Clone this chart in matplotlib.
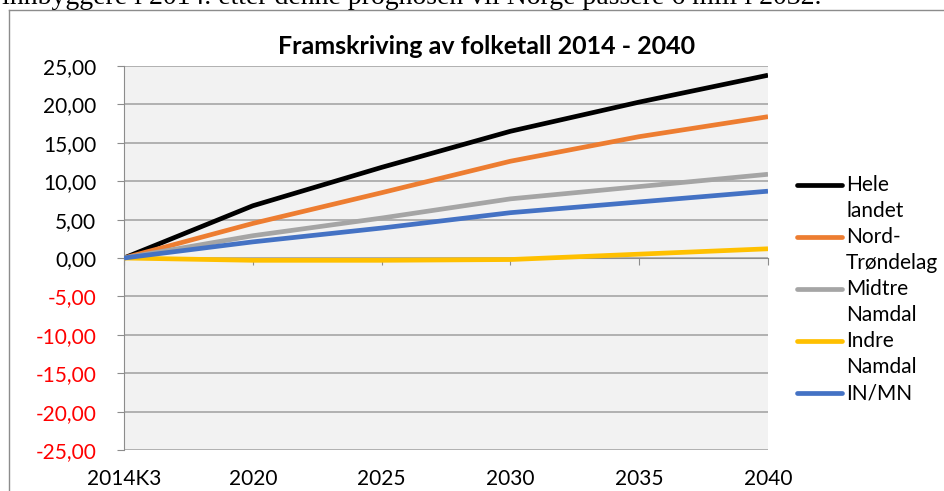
import matplotlib.pyplot as plt
from matplotlib.lines import Line2D

categories = ['2014K3', '2020', '2025', '2030', '2035', '2040']
hele_landet = [0.0, 6.8, 11.8, 16.5, 20.3, 23.8]
nord_trondelag = [0.0, 4.5, 8.5, 12.6, 15.8, 18.4]
midtre_namdal = [0.0, 2.9, 5.2, 7.7, 9.3, 10.9]
indre_namdal = [0.0, -0.3, -0.3, -0.2, 0.5, 1.2]
in_mn = [0.0, 2.1, 3.9, 5.9, 7.3, 8.7]

series = [
    ('Hele\nlandet', hele_landet, '#000000'),
    ('Nord-\nTrøndelag', nord_trondelag, '#ED7D31'),
    ('Midtre\nNamdal', midtre_namdal, '#A5A5A5'),
    ('Indre\nNamdal', indre_namdal, '#FFC000'),
    ('IN/MN', in_mn, '#4472C4'),
]
y_ticks = [-25, -20, -15, -10, -5, 0, 5, 10, 15, 20, 25]

title = 'Framskriving av folketall 2014 - 2040'
body_text = 'innbyggere i 2014. etter denne prognosen vil Norge passere 6 mill i 2032.'

W, H = 944, 491
fig = plt.figure(figsize=(W / 100, H / 100), dpi=100)
fig.patch.set_facecolor('white')

# cut-off body text line and chart frame
fig.text(2 / W, 1 - 3.5 / H, body_text, family='Liberation Serif', fontsize=20,
         va='baseline', ha='left', color='black')
fig.add_artist(Line2D([9 / W, 9 / W], [0, 1 - 10 / H], color='#8c8c8c', lw=1.0))
fig.add_artist(Line2D([9 / W, 1], [1 - 10 / H, 1 - 10 / H], color='#8c8c8c', lw=1.0))

left, right, top, bottom = 124, 768, 66, 450
ax = fig.add_axes([left / W, 1 - bottom / H, (right - left) / W, (bottom - top) / H])
ax.set_facecolor('#F2F2F2')

x = list(range(len(categories)))
for label, vals, color in series:
    ax.plot(x, vals, color=color, lw=3.4, solid_capstyle='butt', zorder=3)

ax.set_xlim(0, len(categories) - 1)
ax.set_ylim(-25, 25)
ax.set_yticks(y_ticks)
ax.set_yticklabels(['{:.2f}'.format(v).replace('.', ',') for v in y_ticks],
                   family='Lato', fontsize=15)
for lbl, v in zip(ax.get_yticklabels(), y_ticks):
    lbl.set_color('red' if v < 0 else 'black')

for v in y_ticks:
    ax.axhline(v, color='#a6a6a6', lw=1.2, zorder=1)

for s in ['top', 'right']:
    ax.spines[s].set_visible(False)
ax.spines['left'].set_color('#8c8c8c')
ax.spines['bottom'].set_position(('data', 0))
ax.spines['bottom'].set_color('#8c8c8c')
ax.tick_params(axis='y', direction='out', length=5, color='#8c8c8c', pad=15)
ax.tick_params(axis='x', direction='out', length=5, color='#8c8c8c')
ax.set_xticks(x)
ax.set_xticklabels([])

for i, c in enumerate(categories):
    ax.annotate(c, xy=(i, 0), xycoords=('data', 'axes fraction'), xytext=(0, -14),
                textcoords='offset points', ha='center', va='top',
                family='Lato', fontsize=15)

fig.text(487 / W, 1 - 46 / H, title, family='Lato', fontweight='bold', fontsize=18,
         ha='center', va='center')

# legend drawn manually so the line sits on the first text row
row_h = 26
y0 = 185
for k, (label, vals, color) in enumerate(series):
    yy = y0 + k * 2 * row_h
    fig.add_artist(Line2D([797 / W, 842 / W], [1 - yy / H, 1 - yy / H], color=color,
                          lw=3.4, solid_capstyle='round'))
    for j, part in enumerate(label.split('\n')):
        fig.text(846 / W, 1 - (yy + j * row_h) / H, part, family='Lato', fontsize=15,
                 ha='left', va='center')

fig.savefig('out.png', dpi=100)
